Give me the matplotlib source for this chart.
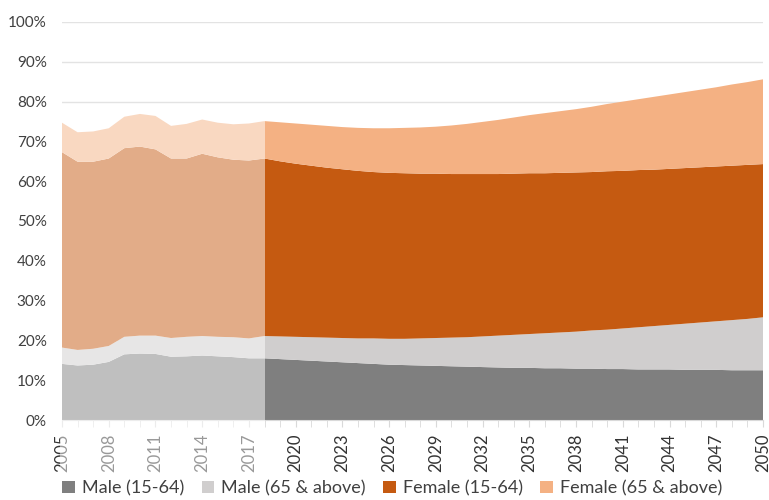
import numpy as np
import matplotlib
matplotlib.use("Agg")
import matplotlib.pyplot as plt
from matplotlib.patches import Rectangle

plt.rcParams['font.family'] = ['Lato', 'DejaVu Sans']

years = list(range(2005, 2051))
last_actual = 2018

# stacked tops (% of population)
male_1564_top = [14.1, 13.7, 13.9, 14.6, 16.5, 16.7, 16.6, 15.9, 16.0, 16.2, 16.0, 15.8, 15.5, 15.5,
                 15.3, 15.1, 14.9, 14.7, 14.5, 14.3, 14.1, 13.9, 13.8, 13.7, 13.6, 13.5, 13.4, 13.3,
                 13.2, 13.1, 13.1, 13.0, 13.0, 12.9, 12.9, 12.8, 12.8, 12.7, 12.7, 12.7, 12.6, 12.6,
                 12.6, 12.5, 12.5, 12.5]
male_65_top = [18.2, 17.6, 17.9, 18.6, 20.9, 21.2, 21.2, 20.6, 20.9, 21.1, 20.9, 20.8, 20.5, 21.1,
               21.0, 20.9, 20.8, 20.7, 20.6, 20.5, 20.5, 20.4, 20.4, 20.5, 20.6, 20.7, 20.8, 21.0,
               21.2, 21.4, 21.6, 21.8, 22.0, 22.2, 22.5, 22.7, 23.0, 23.3, 23.6, 23.9, 24.2, 24.5,
               24.8, 25.1, 25.4, 25.8]
female_1564_top = [67.3, 64.9, 64.9, 65.7, 68.3, 68.7, 68.0, 65.7, 65.7, 66.9, 66.0, 65.4, 65.2, 65.7,
                   65.0, 64.4, 63.9, 63.4, 63.0, 62.6, 62.3, 62.1, 62.0, 61.9, 61.9, 61.8, 61.8, 61.8,
                   61.8, 61.9, 62.0, 62.0, 62.1, 62.2, 62.3, 62.5, 62.6, 62.8, 62.9, 63.1, 63.3, 63.5,
                   63.7, 63.9, 64.1, 64.3]
female_65_top = [74.7, 72.3, 72.5, 73.3, 76.2, 76.9, 76.4, 73.9, 74.4, 75.5, 74.7, 74.3, 74.5, 75.1,
                 74.8, 74.5, 74.2, 73.9, 73.6, 73.4, 73.3, 73.3, 73.4, 73.5, 73.7, 74.0, 74.4, 74.9,
                 75.4, 76.0, 76.6, 77.1, 77.6, 78.1, 78.7, 79.4, 80.0, 80.6, 81.2, 81.8, 82.4, 83.0,
                 83.6, 84.3, 84.9, 85.6]

labels = ['Male (15-64)', 'Male (65 & above)', 'Female (15-64)', 'Female (65 & above)']
colors = ['#7f7f7f', '#d0cece', '#c55a11', '#f4b183']

tops = np.array([male_1564_top, male_65_top, female_1564_top, female_65_top]) / 100
shares = np.diff(np.vstack([np.zeros(len(years)), tops]), axis=0)

fig = plt.figure(figsize=(7.69, 5.0), dpi=100)
ax = fig.add_axes([62 / 769, 80 / 500, 701 / 769, 398 / 500])

ax.stackplot(years, shares, colors=colors, labels=labels, linewidth=0, zorder=2)

# fade the actual (historical) period, tick labels included
ax.add_patch(Rectangle((2004.85, -0.13), last_actual - 2004.85, 0.92,
                       facecolor='white', edgecolor='none', alpha=0.5,
                       zorder=5, clip_on=False))

ax.set_xlim(2005, 2050)
ax.set_ylim(0, 1)
ax.set_yticks(np.arange(0, 1.01, 0.1))
ax.set_yticklabels([f'{int(round(v * 100))}%' for v in np.arange(0, 1.01, 0.1)],
                   fontsize=11, color='#404040')
ax.yaxis.grid(True, color='#e3e3e3', linewidth=1)
ax.set_axisbelow(True)

ax.set_xticks(years[::3])
ax.set_xticklabels([str(y) for y in years[::3]], rotation=90, fontsize=12, color='#333333')
ax.set_xticks(years, minor=True)
ax.tick_params(axis='x', which='both', length=5, color='#d9d9d9', pad=5)
ax.tick_params(axis='y', length=0, pad=11)

for s in ['top', 'right', 'left']:
    ax.spines[s].set_visible(False)
ax.spines['bottom'].set_color('#d9d9d9')

fig.legend(loc='lower center', ncol=4, frameon=False, fontsize=13,
           bbox_to_anchor=(0.51, -0.025), handlelength=0.7, handleheight=0.7,
           handletextpad=0.4, columnspacing=0.95, labelcolor='#404040')

fig.savefig('out.png', dpi=100)
